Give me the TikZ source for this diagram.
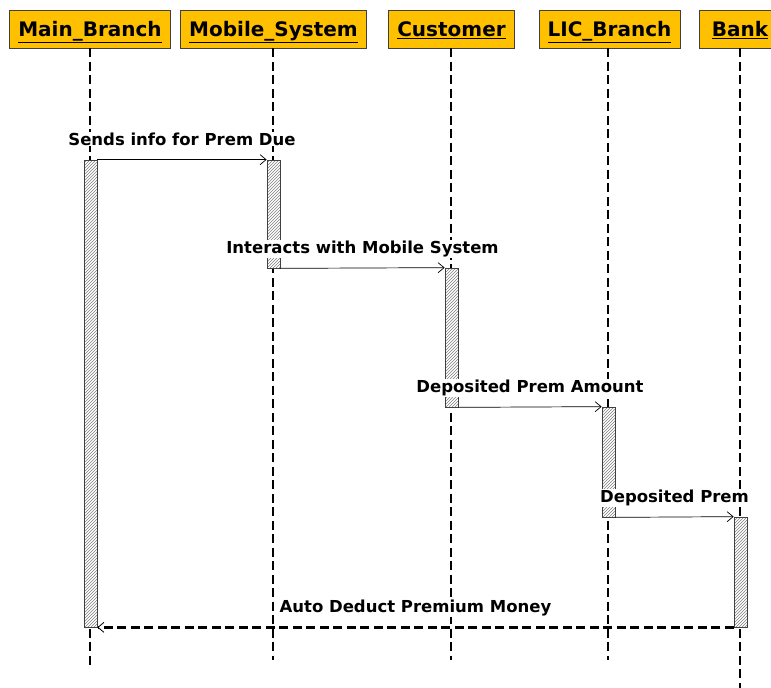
\documentclass[tikz,border=0pt]{standalone}
\usepackage{fontspec}
\setmainfont{DejaVu Sans}
\usepackage{tikz}
\usetikzlibrary{arrows.meta, patterns, positioning}
\definecolor{actor-orange}{HTML}{FFC000}
\definecolor{frame-gray}{HTML}{404040}

\begin{document}
\begin{tikzpicture}[x=1pt, y=-1pt,
    actor/.style={draw=frame-gray, fill=actor-orange, line width=0.8pt, minimum height=38pt, inner xsep=8.5pt, text height=19pt, text depth=4pt, font=\fontsize{20}{24}\selectfont\bfseries},
    lifeline/.style={line width=2.5pt, dash pattern=on 9pt off 4.5pt},
    activation/.style={draw=frame-gray, line width=0.7pt, minimum width=13pt, inner sep=0pt, preaction={fill=white}, pattern=north east lines, pattern color=gray},
    msg/.style={line width=0.7pt, -{Straight Barb[length=6pt, width=10pt, line width=0.7pt]}},
    reply/.style={lifeline, -{Straight Barb[length=6pt, width=10pt, line width=0.8pt]}},
    msglabel/.style={font=\fontsize{16.5}{19}\selectfont\bfseries, anchor=base, yshift=14.5pt, inner sep=1pt, fill=white}]
    \useasboundingbox (0,0) rectangle (771,688);

    % Actors
    \node[actor] (mainb) at (90,29) {\underline{Main\_Branch}};
    \node[actor] (mobile) at (273.5,29) {\underline{Mobile\_System}};
    \node[actor] (cust) at (451.5,29) {\underline{Customer}};
    \node[actor] (lic) at (609.5,29) {\underline{LIC\_Branch}};
    \node[actor, minimum width=82pt] (bank) at (740,29) {\underline{Bank}};

    % Lifelines
    \coordinate (mainEnd) at (90,668);
    \coordinate (mobileEnd) at (273,660);
    \coordinate (custEnd) at (451,660);
    \coordinate (licEnd) at (608,660);
    \coordinate (bankEnd) at (740,690);
    \draw[lifeline] (mainb.south -| mainEnd) -- (mainEnd);
    \draw[lifeline] (mobile.south -| mobileEnd) -- (mobileEnd);
    \draw[lifeline] (cust.south -| custEnd) -- (custEnd);
    \draw[lifeline] (lic.south -| licEnd) -- (licEnd);
    \draw[lifeline] (bank.south -| bankEnd) -- (bankEnd);

    % Activations
    \node[activation, minimum height=467pt] (actMain) at (90.5,393.5) {};
    \node[activation, minimum height=108pt] (actMobile) at (273.5,214) {};
    \node[activation, minimum height=139pt] (actCust) at (451.5,337.5) {};
    \node[activation, minimum height=110pt] (actLic) at (608.5,462) {};
    \node[activation, minimum height=110pt] (actBank) at (740.5,572) {};

    % Messages
    \draw[msg] (actMain.north east) -- (actMobile.north west)
        node[msglabel, midway] {Sends info for Prem Due};
    \draw[msg] (actMobile.south east) -- (actCust.north west)
        node[msglabel, midway] {Interacts with Mobile System};
    \draw[msg] (actCust.south east) -- (actLic.north west)
        node[msglabel, midway] {Deposited Prem Amount};
    \draw[msg] (actLic.south east) -- (actBank.north west)
        node[msglabel, midway] {Deposited Prem};
    \draw[reply] (actBank.south west) -- (actMain.south east)
        node[msglabel, midway] {Auto Deduct Premium Money};
\end{tikzpicture}
\end{document}
